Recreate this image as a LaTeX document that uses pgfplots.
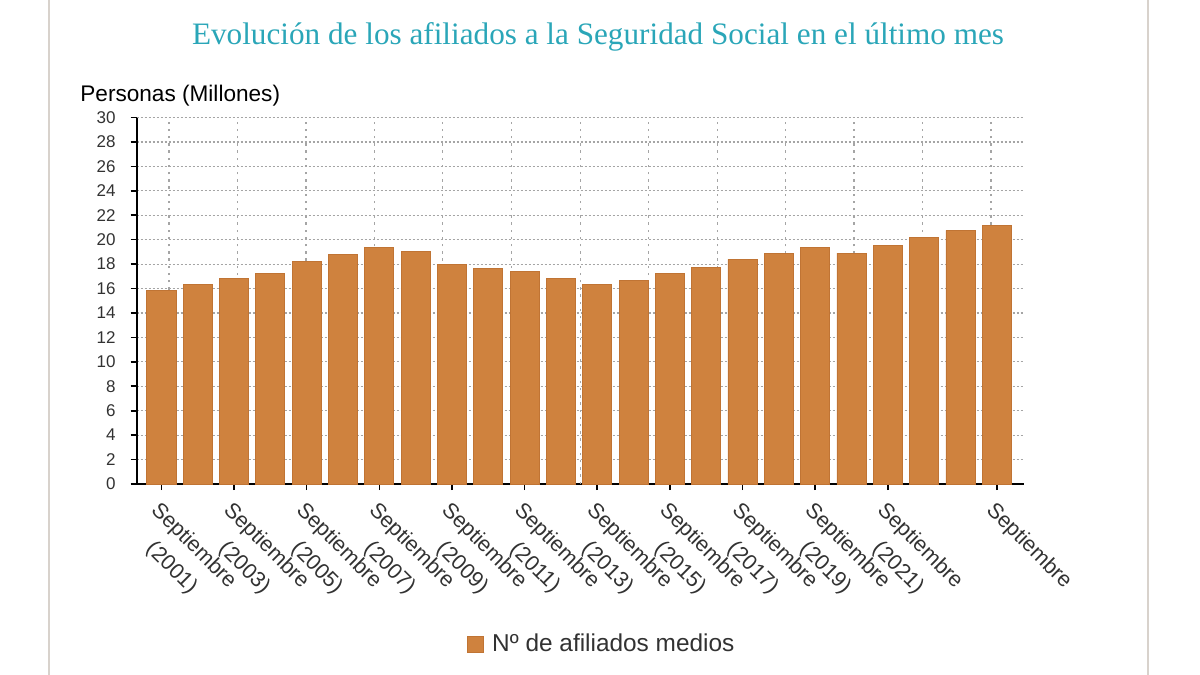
\documentclass[border=0pt]{standalone}
\usepackage{pgfplots}
\pgfplotsset{compat=1.18}
\usepackage{pgfplotstable}
\usepackage{fontspec}
\setmainfont{Liberation Sans}
\newfontfamily\titlefont{Liberation Serif}

\definecolor{barfill}{RGB}{207,130,62}
\definecolor{baredge}{RGB}{192,116,52}
\definecolor{titleteal}{RGB}{42,166,184}
\definecolor{gridgray}{RGB}{165,165,165}
\definecolor{framegray}{RGB}{216,210,204}
\definecolor{labelgray}{RGB}{50,50,50}

% afiliados medios en septiembre, millones (2001-2024)
\pgfplotstableread{
x y
0 15.82
1 16.34
2 16.80
3 17.27
4 18.22
5 18.80
6 19.34
7 19.07
8 17.98
9 17.68
10 17.43
11 16.83
12 16.34
13 16.69
14 17.24
15 17.73
16 18.39
17 18.90
18 19.37
19 18.90
20 19.56
21 20.21
22 20.76
23 21.19
}\afiliados

\begin{document}
\begin{tikzpicture}
\useasboundingbox (-68.35pt,-95.5pt) rectangle (531.65pt,242pt);
\draw[framegray, line width=1pt] (-43.85pt,-95.5pt) -- (-43.85pt,242pt);
\draw[framegray, line width=1pt] (505.65pt,-95.5pt) -- (505.65pt,242pt);

\begin{axis}[
  at={(0pt,0pt)}, anchor=south west,
  scale only axis, width=443.65pt, height=183.25pt,
  xmin=-0.68, xmax=23.75, ymin=0, ymax=30,
  ybar, bar width=0.8,
  axis x line=bottom, axis y line=left,
  axis line style={-, black, line width=1.1pt},
  tick align=outside, major tick length=3pt,
  tick style={black, line width=0.8pt},
  ytick={0,2,...,30},
  xtick={0,2,4,6,8,10,12,14,16,18,20,23},
  xticklabels={{Septiembre\\(2001)},{Septiembre\\(2003)},{Septiembre\\(2005)},
    {Septiembre\\(2007)},{Septiembre\\(2009)},{Septiembre\\(2011)},
    {Septiembre\\(2013)},{Septiembre\\(2015)},{Septiembre\\(2017)},
    {Septiembre\\(2019)},{Septiembre\\(2021)},{Septiembre}},
  xticklabel style={rotate=-45, anchor=north west, align=center,
    font=\fontsize{10.8}{15.5}\selectfont, text=labelgray},
  yticklabel style={font=\fontsize{8.5}{10}\selectfont, text=labelgray, xshift=-4pt},
  /pgf/number format/assume math mode=true,
  ymajorgrids=true,
  major grid style={gridgray, line width=0.6pt, dash pattern=on 1pt off 1pt},
  extra x ticks={0.21,2.10,3.98,5.87,7.75,9.64,11.53,13.41,15.30,17.18,19.07,20.96,22.84},
  extra x tick labels={},
  extra x tick style={grid=major, major tick length=0pt,
    major grid style={gridgray, line width=0.6pt, dash pattern=on 1.2pt off 2.4pt}},
  legend style={at={(0.3723,-0.4374)}, anchor=west, draw=none, fill=none,
    inner sep=0pt, font=\fontsize{12.2}{14}\selectfont, text=labelgray,
    /tikz/every odd column/.append style={column sep=2pt}},
  legend image code/.code={\draw[#1] (0pt,-4pt) rectangle (8pt,4pt);},
]
\addplot[fill=barfill, draw=baredge, line width=0.4pt] table[x=x, y=y] {\afiliados};
\addlegendentry{Nº de afiliados medios}
\end{axis}

\node[anchor=center, text=titleteal, font=\titlefont\fontsize{15.6}{18}\selectfont]
  at (230.65pt,223.5pt) {Evolución de los afiliados a la Seguridad Social en el último mes};
\node[anchor=west, inner sep=0pt, font=\fontsize{11.3}{13}\selectfont]
  at (-28.35pt,194pt) {Personas (Millones)};
\end{tikzpicture}
\end{document}
